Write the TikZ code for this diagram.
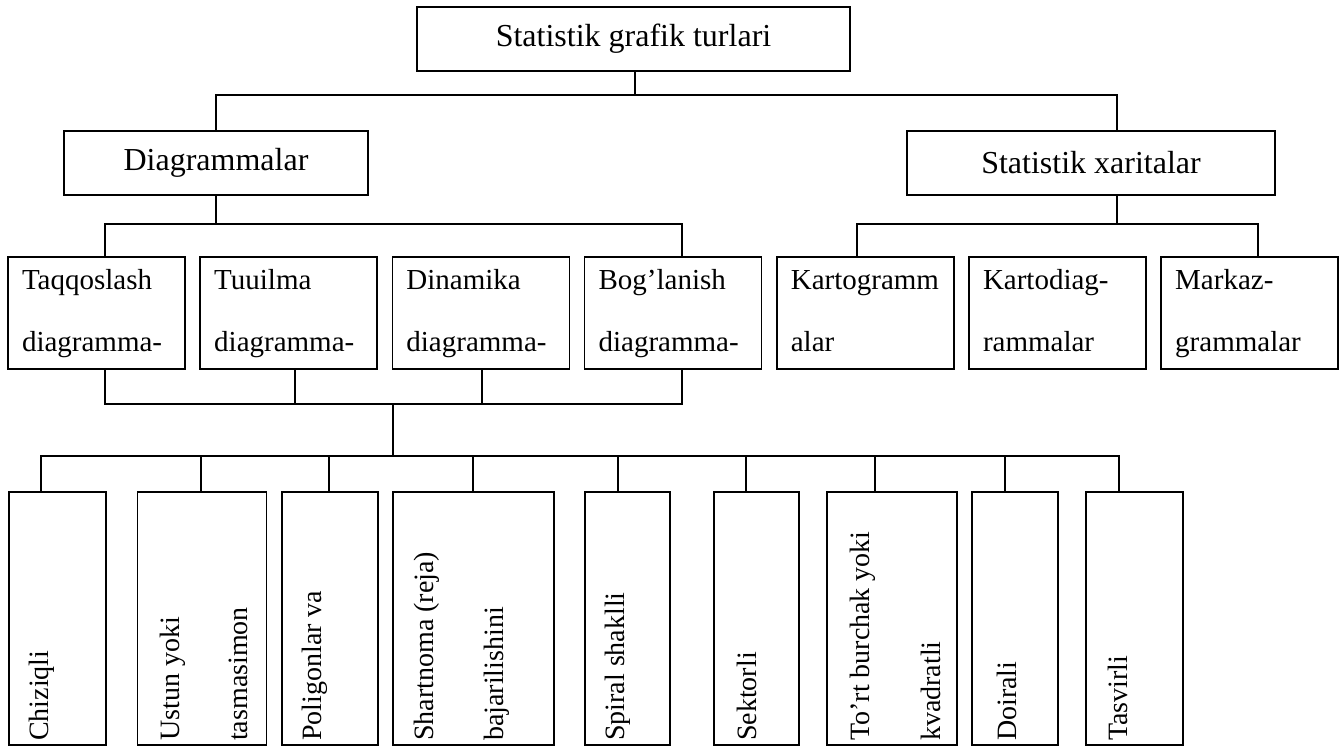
\documentclass[tikz,border=0pt]{standalone}
\usepackage{fontspec}
\setmainfont{Liberation Serif}
\hyphenpenalty=10000
\tikzset{
  box/.style={draw, line width=1.6pt, inner sep=0pt},
  headbox/.style={box, minimum height=64pt, font=\fontsize{32}{38}\selectfont},
  midbox/.style={box, minimum height=112pt, text width=149pt, inner xsep=14pt, align=left, font=\fontsize{29}{62}\selectfont,
    execute at begin node={\rule{0pt}{21pt}}, execute at end node={\rule[-7pt]{0pt}{7pt}}},
  tallbox/.style={box, minimum height=253pt},
  vtext/.style={rotate=90, anchor=base west, inner sep=0pt, font=\fontsize{28}{34}\selectfont},
  conn/.style={line width=1.6pt, line cap=rect},
}
\begin{document}
\begin{tikzpicture}[x=1pt,y=1pt,yscale=-1]
\useasboundingbox (0,0) rectangle (1343,747);

% Top and first level
\node[headbox, minimum width=433pt] (top) at (633.5,39) {Statistik grafik turlari};
\node[headbox, minimum width=304pt] (diag) at (216,163) {Diagrammalar};
\node[headbox, minimum width=368pt] (xar) at (1091,163) {Statistik xaritalar};

% Second level
\node[midbox] (taq) at (96.5,313) {Taqqoslash\\diagramma-};
\node[midbox] (tuu) at (288.7,313) {Tuuilma\\diagramma-};
\node[midbox] (din) at (480.9,313) {Dinamika\\diagramma-};
\node[midbox] (bog) at (673.1,313) {Bog’lanish\\diagramma-};
\node[midbox] (kart) at (865.3,313) {Kartogramm\\alar};
\node[midbox] (kdiag) at (1057.5,313) {Kartodiag-\\rammalar};
\node[midbox] (mark) at (1249.7,313) {Markaz-\\grammalar};

% Bottom level boxes
\node[tallbox, minimum width=97pt] (chiz) at (57.5,618.5) {};
\node[tallbox, minimum width=129pt] (ustun) at (202,618.5) {};
\node[tallbox, minimum width=96pt] (polig) at (330,618.5) {};
\node[tallbox, minimum width=161pt] (shart) at (473.5,618.5) {};
\node[tallbox, minimum width=85pt] (spir) at (627.5,618.5) {};
\node[tallbox, minimum width=85pt] (sekt) at (756.5,618.5) {};
\node[tallbox, minimum width=130pt] (tort) at (892,618.5) {};
\node[tallbox, minimum width=86pt] (doir) at (1015,618.5) {};
\node[tallbox, minimum width=97pt] (tasv) at (1134.5,618.5) {};

% Bottom level texts
\node[vtext] (chiz-a) at (48,741) {Chiziqli};
\node[vtext] (ustun-a) at (179,741) {Ustun yoki};
\node[vtext] (ustun-b) at (247,741) {tasmasimon};
\node[vtext] (polig-a) at (321,741) {Poligonlar va};
\node[vtext] (shart-a) at (433,741) {Shartnoma (reja)};
\node[vtext] (shart-b) at (503,741) {bajarilishini};
\node[vtext] (spir-a) at (624,741) {Spiral shaklli};
\node[vtext] (sekt-a) at (756,741) {Sektorli};
\node[vtext] (tort-a) at (869,741) {To’rt burchak yoki};
\node[vtext] (tort-b) at (940,741) {kvadratli};
\node[vtext] (doir-a) at (1016,741) {Doirali};
\node[vtext] (tasv-a) at (1127,741) {Tasvirli};

% Connectors, top
\coordinate (b0) at (635,95);
\coordinate (x1) at (1117,95);
\draw[conn] (top.south -| b0) -- (b0);
\draw[conn] (diag.north) |- (x1) -- (xar.north -| x1);

% Connectors, second level
\coordinate (d0) at (216,224);
\coordinate (d1) at (105,224);
\coordinate (d2) at (682,224);
\draw[conn] (diag.south) -- (d0);
\draw[conn] (taq.north -| d1) -- (d1) -- (d2) -- (bog.north -| d2);
\coordinate (k0) at (1117,224);
\coordinate (k1) at (857,224);
\coordinate (k2) at (1258,224);
\draw[conn] (xar.south -| k0) -- (k0);
\draw[conn] (kart.north -| k1) -- (k1) -- (k2) -- (mark.north -| k2);

% Connectors, below second level
\coordinate (u1) at (105,404);
\coordinate (u2) at (295,404);
\coordinate (u3) at (482,404);
\coordinate (u4) at (682,404);
\draw[conn] (taq.south -| u1) -- (u1) -- (u4) -- (bog.south -| u4);
\draw[conn] (tuu.south -| u2) -- (u2);
\draw[conn] (din.south -| u3) -- (u3);
\coordinate (m0) at (393,404);
\coordinate (m1) at (393,456);
\draw[conn] (m0) -- (m1);

% Connectors, bottom level
\foreach \n/\x in {chiz/41, ustun/201, polig/329, shart/473, spir/618, sekt/746, tort/875, doir/1005, tasv/1119}{
  \coordinate (\n-up) at (\x,456);
  \draw[conn] (\n-up) -- (\n.north -| \n-up);
}
\draw[conn] (chiz-up) -- (tasv-up);

\end{tikzpicture}
\end{document}
